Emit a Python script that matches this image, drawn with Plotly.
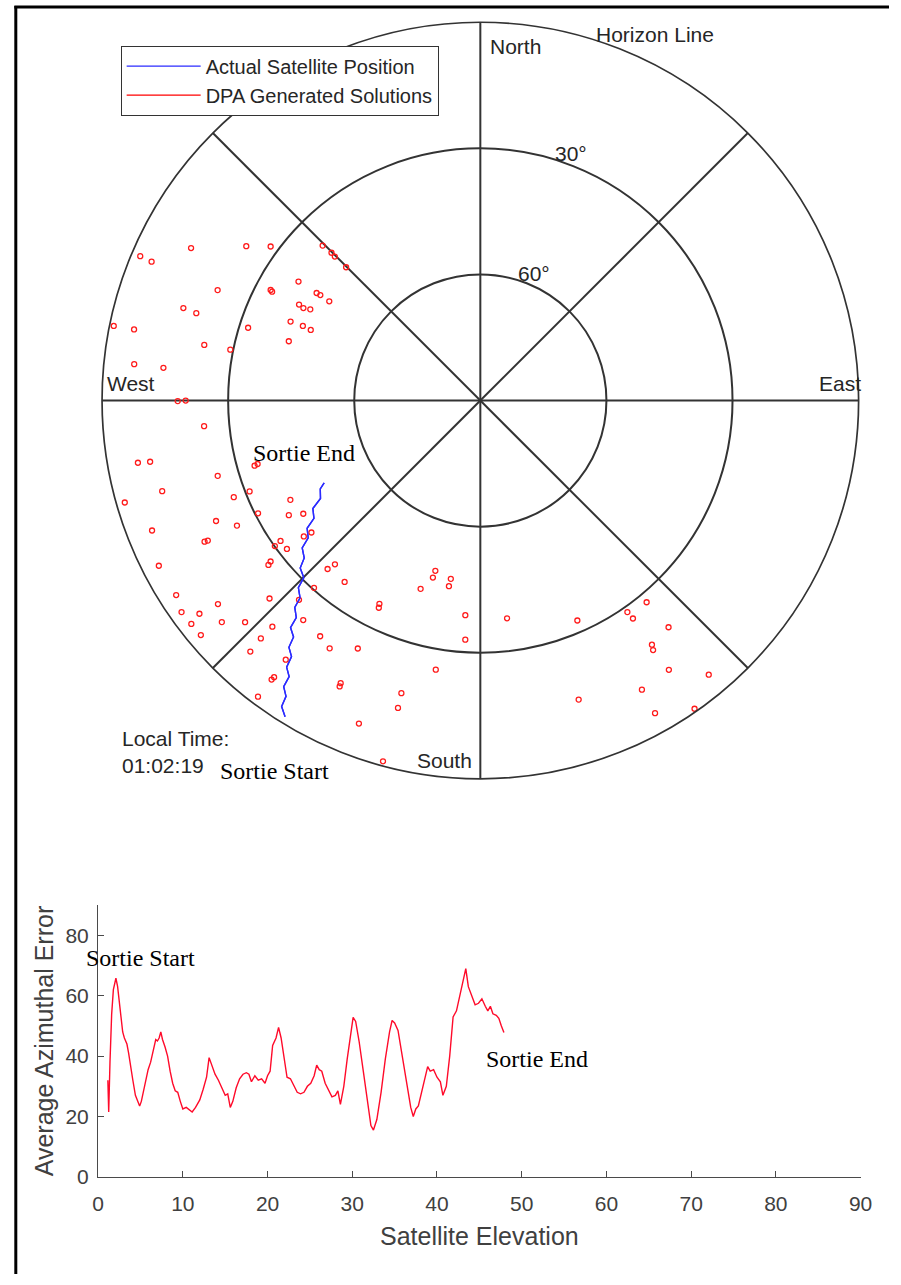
import plotly.graph_objects as go

# ---------------- Sky plot data (azimuth deg clockwise from North, elevation deg) -------------
sol_az = [293.0, 292.9, 297.8, 303.4, 306.3, 314.5, 314.8, 314.7, 314.8, 292.8,
          297.8, 297.6, 303.2, 303.3, 303.4, 303.3, 297.9, 297.6, 298.2, 287.3,
          287.1, 281.5, 281.6, 287.4, 292.6, 292.8, 292.6, 287.2, 281.4, 281.5,
          276.0, 275.9, 269.9, 270.0, 264.7, 259.7, 259.5, 253.9, 254.1, 254.0,
          254.1, 254.0, 248.6, 248.5, 242.4, 243.1, 239.1, 237.4, 245.5, 242.8,
          248.4, 242.9, 242.8, 234.7, 234.9, 232.5, 232.0, 232.4, 232.2, 232.5,
          242.8, 222.2, 221.6, 216.8, 221.6, 194.8, 195.0, 189.4, 189.6, 197.6,
          237.4, 226.8, 222.3, 206.4, 206.1, 232.2, 234.7, 232.8, 232.3, 229.4,
          226.7, 218.9, 184.0, 230.0, 222.6, 222.7, 214.2, 183.6, 222.5, 211.3,
          206.3, 216.9, 189.4, 216.7, 216.8, 206.3, 206.2, 195.1, 216.9, 195.0,
          200.6, 195.1, 173.0, 156.2, 145.2, 145.0, 140.5, 140.3, 144.9, 145.3,
          145.0, 140.2, 150.8, 161.8, 150.8, 145.2]
sol_el = [2.1, 5.1, 12.2, 23.3, 28.1, 37.4, 40.1, 41.3, 45.0, 22.2,
          33.6, 34.1, 38.3, 43.4, 44.4, 47.0, 41.2, 42.5, 44.1, 16.0,
          19.3, 1.0, 5.9, 32.1, 41.1, 44.2, 46.3, 42.3, 23.0, 29.3,
          7.2, 14.2, 18.0, 19.9, 24.0, 7.2, 10.1, 34.1, 34.9, 25.0,
          11.3, 2.0, 27.0, 31.0, 39.0, 30.7, 36.9, 40.0, 20.9, 24.9,
          6.0, 16.3, 17.1, 30.1, 31.9, 32.0, 39.0, 37.0, 26.2, 27.1,
          4.0, 35.9, 37.9, 36.1, 30.4, 48.1, 46.4, 47.0, 45.2, 43.0,
          4.1, 21.2, 25.9, 36.0, 35.1, 11.0, 2.9, 6.1, 3.1, 9.0,
          13.1, 22.9, 38.8, 3.2, 16.9, 13.0, 22.2, 33.0, 9.0, 21.0,
          24.2, 12.9, 25.1, 7.9, 7.1, 15.0, 14.2, 17.9, 1.9, 14.3,
          7.9, 1.1, 37.8, 32.8, 28.7, 26.7, 27.8, 19.9, 19.0, 17.8,
          11.8, 5.1, 11.2, 15.1, 4.8, 0.7]

sat_az = [211.7, 213.0, 213.3, 214.5, 214.7, 216.0, 216.4, 217.8, 218.3, 219.9,
          220.3, 221.9, 222.4, 224.2, 224.9, 227.1, 228.2, 230.4, 231.4, 233.6,
          234.7, 237.2, 238.5, 241.1, 242.2]
sat_el = [1.6, 3.2, 5.8, 7.4, 10.1, 11.6, 14.3, 15.7, 18.3, 19.6,
          22.3, 23.9, 26.4, 27.9, 30.5, 31.5, 33.8, 35.0, 37.6, 38.8,
          41.5, 42.6, 45.4, 46.5, 48.0]

# ---------------- Error vs elevation data -------------
err_elev = [1.15, 1.2, 1.25, 1.4, 1.6, 1.8, 2.0, 2.1, 2.3, 2.5, 2.7, 2.9, 3.1, 3.4, 3.6,
            3.8, 4.1, 4.4, 4.7, 4.9, 5.1, 5.4, 5.7, 5.9, 6.2, 6.5, 6.8, 7.0, 7.2, 7.4,
            7.6, 7.9, 8.2, 8.5, 8.8, 9.1, 9.4, 9.7, 10.0, 10.4, 10.8, 11.1, 11.5, 12.0,
            12.4, 12.8, 13.1, 13.4, 13.8, 14.2, 14.6, 15.0, 15.3, 15.6, 15.9, 16.3,
            16.7, 17.1, 17.5, 17.8, 18.1, 18.5, 18.9, 19.3, 19.7, 20.0, 20.3, 20.6,
            21.0, 21.3, 21.6, 21.9, 22.3, 22.7, 23.1, 23.5, 23.9, 24.3, 24.7, 25.1,
            25.5, 25.8, 26.1, 26.4, 26.8, 27.2, 27.6, 28.0, 28.3, 28.6, 29.0, 29.4,
            29.8, 30.1, 30.4, 30.8, 31.3, 31.8, 32.2, 32.5, 32.9, 33.4, 33.9, 34.4,
            34.7, 35.0, 35.4, 35.9, 36.4, 36.9, 37.2, 37.5, 37.8, 38.2, 38.6, 38.9,
            39.2, 39.6, 40.0, 40.4, 40.7, 41.1, 41.5, 41.9, 42.3, 42.7, 43.1, 43.4,
            43.7, 44.1, 44.5, 44.9, 45.3, 45.7, 46.0, 46.3, 46.6, 47.0, 47.3, 47.6, 47.9]
err_val = [32, 26, 21.5, 38, 54, 62, 64.5, 65.8, 63, 58, 52, 48, 46, 44, 41,
           37, 32, 27, 24.5, 23.5, 25, 29, 34, 35.5, 38, 42, 45.5, 45, 46, 48,
           45.5, 43, 40, 35, 31, 28.5, 28, 25, 22.5, 23, 22, 21.5, 23, 25.5,
           29, 33, 39.5, 37, 34, 32, 29.5, 27, 27.5, 23, 25, 29.5,
           32.5, 34, 34.5, 34, 31.5, 33.5, 32, 32.5, 31, 33.5, 35, 43.5,
           46, 49.5, 46, 40, 33, 32.5, 30.5, 28, 27.5, 28, 30, 31,
           33.5, 37, 35.5, 35, 31, 29, 26.5, 27, 28.5, 24, 30, 39,
           48, 52.8, 51.5, 45, 35, 24, 17, 15.5, 19, 28, 39, 48,
           51.8, 51, 48.5, 40, 31, 23, 20, 22.5, 23.5, 28, 33, 36.5,
           35, 35.5, 33, 31.5, 27, 30, 40, 53, 55, 60, 65, 69,
           63, 60, 57, 57.5, 59, 56.5, 55, 56.5, 54, 53.5, 52.5, 50, 47.8]

x_ticks = [0, 10, 20, 30, 40, 50, 60, 70, 80, 90]
y_ticks = [0, 20, 40, 60, 80]

W, H = 901, 1285
def px(x):
    return x / W
def py(y):
    return 1 - y / H

SANS = "Liberation Sans, Arial, Helvetica, sans-serif"
SERIF = "Liberation Serif, Times New Roman, serif"
TXT = "#262626"
GRID = "#333333"

fig = go.Figure()

fig.add_trace(go.Scatterpolar(
    r=[90 - e for e in sat_el], theta=sat_az, mode="lines",
    line=dict(color="#2b2bff", width=1.4), name="Actual Satellite Position",
    subplot="polar"))
fig.add_trace(go.Scatterpolar(
    r=[None], theta=[None], mode="lines", line=dict(color="#ff0000", width=1.2),
    name="DPA Generated Solutions", subplot="polar"))
fig.add_trace(go.Scatterpolar(
    r=[90 - e for e in sol_el], theta=sol_az, mode="markers",
    marker=dict(symbol="circle-open", size=5, color="#ff1a1a", line=dict(width=1.3)),
    showlegend=False, subplot="polar"))
fig.add_trace(go.Scatterpolar(
    r=[90 - e for e in sat_el], theta=sat_az, mode="lines",
    line=dict(color="#2b2bff", width=1.4), showlegend=False, subplot="polar"))

fig.add_trace(go.Scatter(x=err_elev, y=err_val, mode="lines",
                         line=dict(color="#ff0a2a", width=1.4),
                         showlegend=False, xaxis="x", yaxis="y"))

R = 386
cx, cy = 484, 404
fig.update_layout(
    width=W, height=H, margin=dict(l=0, r=0, t=0, b=0),
    paper_bgcolor="white", plot_bgcolor="white",
    polar=dict(
        domain=dict(x=[px(cx - R), px(cx + R)], y=[py(cy + R), py(cy - R)]),
        bgcolor="white",
        angularaxis=dict(rotation=90, direction="clockwise", tickmode="linear",
                         tick0=0, dtick=45, showticklabels=False, ticks="",
                         showgrid=True, gridcolor=GRID, gridwidth=1.6,
                         showline=True, linecolor=GRID, linewidth=1.7),
        radialaxis=dict(range=[0, 90], tickvals=[30, 60], showticklabels=False,
                        ticks="", showline=False, showgrid=True,
                        gridcolor=GRID, gridwidth=1.7),
    ),
    xaxis=dict(domain=[px(94), px(872)], range=[0, 90], tickvals=x_ticks,
               showline=True, linecolor="#4a4a4a", linewidth=1.3,
               ticks="inside", ticklen=6, tickcolor="#4a4a4a", tickwidth=1.3,
               showgrid=False, zeroline=False,
               tickfont=dict(family=SANS, size=21, color="#404040"),
               ticklabelstandoff=8,
               title=dict(text="Satellite Elevation", standoff=13,
                          font=dict(family=SANS, size=25, color="#404040"))),
    yaxis=dict(domain=[py(1187), py(913)], range=[0, 90], tickvals=y_ticks,
               showline=True, linecolor="#4a4a4a", linewidth=1.3,
               ticks="inside", ticklen=6, tickcolor="#4a4a4a", tickwidth=1.3,
               showgrid=False, zeroline=False,
               tickfont=dict(family=SANS, size=21, color="#404040"),
               ticklabelstandoff=4,
               title=dict(text="Average Azimuthal Error", standoff=4,
                          font=dict(family=SANS, size=25, color="#404040"))),
    legend=dict(x=px(117), y=py(46), xanchor="left", yanchor="top",
                bgcolor="white", bordercolor="#333333", borderwidth=1,
                font=dict(family=SANS, size=20, color=TXT),
                tracegroupgap=0, itemwidth=74),
    shapes=[
        dict(type="line", xref="paper", yref="paper", x0=px(10), x1=px(10),
             y0=0, y1=py(6), line=dict(color="black", width=3)),
        dict(type="line", xref="paper", yref="paper", x0=px(8.5), x1=1,
             y0=py(7), y1=py(7), line=dict(color="black", width=3)),
    ],
)

def ann(text, x, y, size=21, family=SANS, color=TXT, xanchor="center", align="center"):
    fig.add_annotation(text=text, x=px(x), y=py(y), xref="paper", yref="paper",
                       showarrow=False, xanchor=xanchor, yanchor="middle",
                       align=align, font=dict(family=family, size=size, color=color))

ann("North", 520, 47)
ann("Horizon Line", 662, 35)
ann("30°", 577, 155)
ann("60°", 539, 276)
ann("East", 851, 387)
ann("West", 128, 387)
ann("South", 447, 767)
ann("Local Time:<br>01:02:19", 116, 758, xanchor="left", align="left")
ann("Sortie End", 304, 457, size=24, family=SERIF, color="black")
ann("Sortie Start", 274, 778, size=24, family=SERIF, color="black")
ann("Sortie Start", 137, 966, size=24, family=SERIF, color="black")
ann("Sortie End", 542, 1068, size=24, family=SERIF, color="black")

fig.write_html(
    "out.html",
    config={"displayModeBar": False},
    post_script="document.body.style.margin='0';document.body.style.overflow='hidden';",
)
